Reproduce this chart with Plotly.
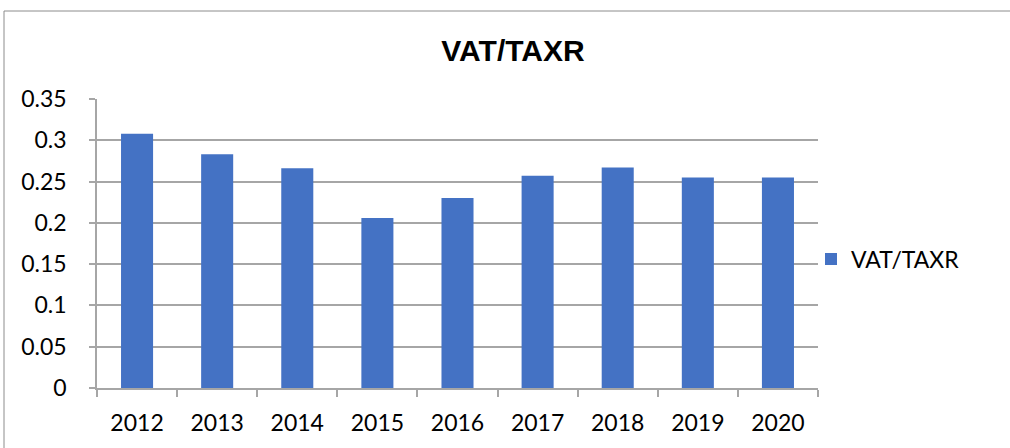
import plotly.graph_objects as go

years = ["2012", "2013", "2014", "2015", "2016", "2017", "2018", "2019", "2020"]
vat_taxr = [0.308, 0.283, 0.266, 0.206, 0.230, 0.257, 0.267, 0.255, 0.255]
y_ticks = [0, 0.05, 0.1, 0.15, 0.2, 0.25, 0.3, 0.35]
y_tick_text = ["0", "0.05", "0.1", "0.15", "0.2", "0.25", "0.3", "0.35"]

W, H = 1010, 448
L, R, T, B = 97, 192, 99, 60
pw, ph = W - L - R, H - T - B

def px(x):
    return (x - L) / pw

def py(y):
    return (H - B - y) / ph

fig = go.Figure()
fig.add_trace(go.Bar(
    x=years, y=vat_taxr, name="VAT/TAXR",
    marker=dict(color="#4472C4", line=dict(width=0)),
    showlegend=True,
))

fig.update_layout(
    width=W, height=H,
    margin=dict(l=L, r=R, t=T, b=B, autoexpand=False),
    paper_bgcolor="white", plot_bgcolor="white",
    bargap=0.6,
    font=dict(family="Lato, 'Open Sans', sans-serif", color="#000000", size=23),
    title=dict(text="<b>VAT/TAXR</b>", x=513 / W, xanchor="center",
               y=1 - 50 / H, yanchor="middle",
               font=dict(family="'Liberation Sans', Arial, sans-serif", size=30, color="#000000")),
    showlegend=True,
    legend=dict(x=px(811), y=py(259), xanchor="left", yanchor="middle",
                font=dict(size=23), itemwidth=30, bgcolor="rgba(0,0,0,0)"),
    xaxis=dict(type="category", showgrid=False, showline=True, linecolor="#a6a6a6", linewidth=1.5,
               ticks="outside", tickson="boundaries", ticklen=7, tickcolor="#a6a6a6", tickwidth=1.5,
               tickfont=dict(size=23), ticklabelstandoff=14),
    yaxis=dict(range=[0, 0.35], tickvals=y_ticks, ticktext=y_tick_text,
               showgrid=True, gridcolor="#a6a6a6", gridwidth=1.5,
               showline=True, linecolor="#a6a6a6", linewidth=1.5,
               ticks="outside", ticklen=6, tickcolor="#a6a6a6", tickwidth=1.5,
               tickfont=dict(size=23), zeroline=False, ticklabelstandoff=18),
    shapes=[dict(type="rect", xref="paper", yref="paper",
                 x0=px(4), x1=px(1012), y0=py(460), y1=py(11),
                 line=dict(color="#8c8c8c", width=1), fillcolor="rgba(0,0,0,0)", layer="below")],
)

fig.write_html("out.html", config={"displayModeBar": False},
               post_script="document.body.style.margin='0';")
